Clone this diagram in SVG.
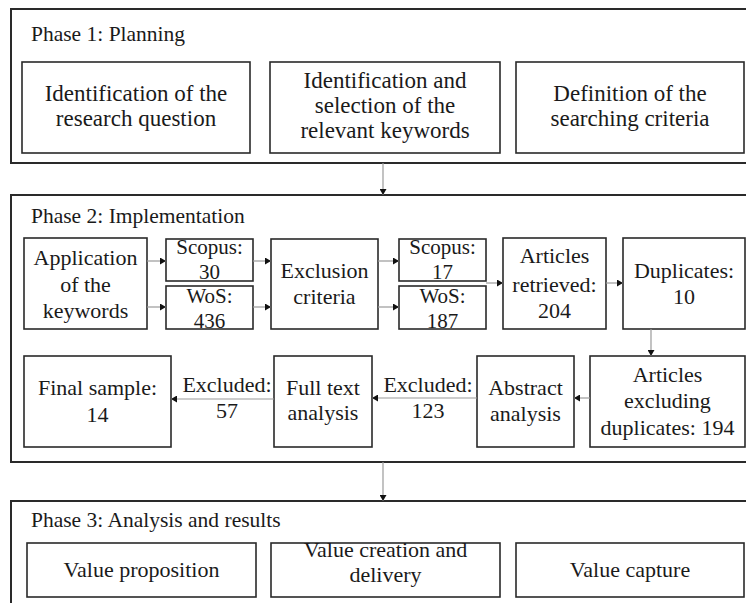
<svg xmlns="http://www.w3.org/2000/svg" width="746" height="603" viewBox="0 0 746 603">
<defs>
<style>
.phase{fill:none;stroke:#2a2a2a;stroke-width:2}
.box{fill:#fff;stroke:#2a2a2a;stroke-width:1.6}
text{font-family:'Liberation Serif','Times New Roman',Times,'Noto Serif','DejaVu Serif',serif;fill:#1a1a1a}
.t{font-size:22px;text-anchor:middle}
.s{font-size:21px;text-anchor:middle}
.b{font-size:23px;text-anchor:middle}
.title{font-size:21.5px}
.c{fill:none;stroke:#9a9a9a;stroke-width:1.2;marker-end:url(#ah)}
</style>
<marker id="ah" markerUnits="userSpaceOnUse" markerWidth="6" markerHeight="7" refX="6" refY="3.5" orient="auto">
<path d="M0,0 L6,3.5 L0,7 z" fill="#111"/>
</marker>
</defs>
<rect width="746" height="603" fill="#fff"/>

<g id="phase1">
<rect class="phase" x="11" y="9" width="738" height="154"/>
<text class="title" x="31" y="41">Phase 1: Planning</text>
</g>
<g id="p1-question">
<rect class="box" x="22" y="62" width="228" height="91"/>
<text class="b" x="136" y="101">Identification of the</text>
<text class="b" x="136" y="126">research question</text>
</g>
<g id="p1-keywords">
<rect class="box" x="270" y="62" width="230" height="91"/>
<text class="b" x="385" y="88">Identification and</text>
<text class="b" x="385" y="113">selection of the</text>
<text class="b" x="385" y="138">relevant keywords</text>
</g>
<g id="p1-criteria">
<rect class="box" x="516" y="62" width="228" height="91"/>
<text class="b" x="630" y="101">Definition of the</text>
<text class="b" x="630" y="126">searching criteria</text>
</g>

<g id="phase2">
<rect class="phase" x="11" y="195" width="738" height="267"/>
<text class="title" x="31" y="223">Phase 2: Implementation</text>
</g>
<g id="application">
<rect class="box" x="24" y="238" width="123" height="91"/>
<text class="t" x="85.5" y="265">Application</text>
<text class="t" x="85.5" y="292">of the</text>
<text class="t" x="85.5" y="318">keywords</text>
</g>
<g id="scopus30">
<rect class="box" x="166" y="239" width="87" height="42"/>
<text class="s" x="209.5" y="254">Scopus:</text>
<text class="s" x="209.5" y="279">30</text>
</g>
<g id="wos436">
<rect class="box" x="166" y="286" width="87" height="43"/>
<text class="s" x="209.5" y="303">WoS:</text>
<text class="s" x="209.5" y="328">436</text>
</g>
<g id="exclusion">
<rect class="box" x="271" y="239" width="107" height="90"/>
<text class="t" x="324.5" y="278">Exclusion</text>
<text class="t" x="324.5" y="304">criteria</text>
</g>
<g id="scopus17">
<rect class="box" x="399" y="239" width="87" height="42"/>
<text class="s" x="442.5" y="254">Scopus:</text>
<text class="s" x="442.5" y="279">17</text>
</g>
<g id="wos187">
<rect class="box" x="399" y="286" width="87" height="43"/>
<text class="s" x="442.5" y="303">WoS:</text>
<text class="s" x="442.5" y="328">187</text>
</g>
<g id="retrieved">
<rect class="box" x="503" y="238" width="103" height="91"/>
<text class="t" x="554.5" y="263">Articles</text>
<text class="t" x="554.5" y="292">retrieved:</text>
<text class="t" x="554.5" y="318">204</text>
</g>
<g id="duplicates">
<rect class="box" x="623" y="238" width="122" height="91"/>
<text class="t" x="684" y="278">Duplicates:</text>
<text class="t" x="684" y="304">10</text>
</g>
<g id="final">
<rect class="box" x="24" y="356" width="147" height="91"/>
<text class="t" x="97.5" y="395">Final sample:</text>
<text class="t" x="97.5" y="422">14</text>
</g>
<g id="fulltext">
<rect class="box" x="274" y="356" width="98" height="91"/>
<text class="t" x="323" y="395">Full text</text>
<text class="t" x="323" y="420">analysis</text>
</g>
<g id="abstract">
<rect class="box" x="477" y="356" width="97" height="91"/>
<text class="t" x="525.5" y="395">Abstract</text>
<text class="t" x="525.5" y="421">analysis</text>
</g>
<g id="excl-dup">
<rect class="box" x="590" y="356" width="155" height="91"/>
<text class="t" x="667.5" y="382">Articles</text>
<text class="t" x="667.5" y="408">excluding</text>
<text class="t" x="667.5" y="435">duplicates: 194</text>
</g>

<g id="phase3">
<rect class="phase" x="11" y="501" width="738" height="120"/>
<text class="title" x="31" y="527">Phase 3: Analysis and results</text>
</g>
<g id="p3-proposition">
<rect class="box" x="27" y="543" width="229" height="54"/>
<text class="t" x="141.5" y="577">Value proposition</text>
</g>
<g id="p3-creation">
<rect class="box" x="271" y="543" width="229" height="54"/>
<text class="t" x="385.5" y="557">Value creation and</text>
<text class="t" x="385.5" y="582">delivery</text>
</g>
<g id="p3-capture">
<rect class="box" x="516" y="543" width="228" height="54"/>
<text class="t" x="630" y="577">Value capture</text>
</g>

<g id="connectors">
<line class="c" x1="383" y1="163" x2="383" y2="195"/>
<line class="c" x1="147" y1="261" x2="166" y2="261"/>
<line class="c" x1="147" y1="307" x2="166" y2="307"/>
<line class="c" x1="253" y1="261" x2="271" y2="261"/>
<line class="c" x1="253" y1="307" x2="271" y2="307"/>
<line class="c" x1="378" y1="261" x2="399" y2="261"/>
<line class="c" x1="378" y1="307" x2="399" y2="307"/>
<line class="c" x1="486" y1="283" x2="503" y2="283"/>
<line class="c" x1="606" y1="283" x2="623" y2="283"/>
<line class="c" x1="651" y1="329" x2="651" y2="356"/>
<line class="c" x1="590" y1="398" x2="574" y2="398"/>
<line class="c" x1="477" y1="398" x2="372" y2="398"/>
<line class="c" x1="274" y1="399" x2="171" y2="399"/>
<line class="c" x1="383" y1="462" x2="383" y2="501"/>
</g>
<g id="edge-labels">
<text class="t" x="227" y="392">Excluded:</text>
<text class="t" x="227" y="418">57</text>
<text class="t" x="428" y="392">Excluded:</text>
<text class="t" x="428" y="418">123</text>
</g>
</svg>
